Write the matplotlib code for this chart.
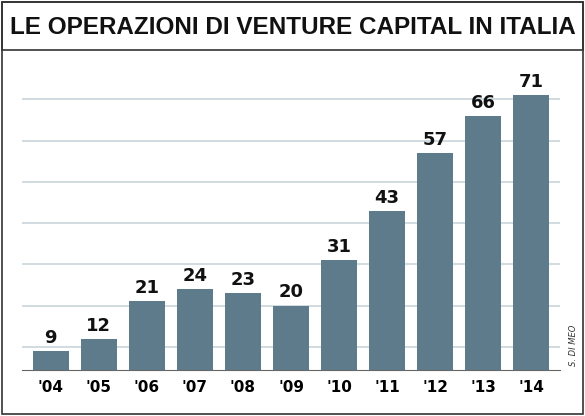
import matplotlib
matplotlib.use("Agg")
import matplotlib.pyplot as plt
from matplotlib.patches import Rectangle

years = ["'04","'05","'06","'07","'08","'09","'10","'11","'12","'13","'14"]
values = [9, 12, 21, 24, 23, 20, 31, 43, 57, 66, 71]
title = "LE OPERAZIONI DI VENTURE CAPITAL IN ITALIA"

W, H = 585, 416
fig = plt.figure(figsize=(W/100, H/100), dpi=100)
fig.patch.set_facecolor("white")
fig.patches.append(Rectangle((2/W, 2/H), 1-4/W, 1-4/H, transform=fig.transFigure,
                             fill=False, ec="#333333", lw=1.2))
fig.patches.append(Rectangle((2/W, (H-50)/H), 1-4/W, 48/H, transform=fig.transFigure,
                             fill=False, ec="#333333", lw=1.2))
fig.text(0.5, (H-27)/H, title, ha="center", va="center", fontsize=17.5,
         fontweight="bold", family="Liberation Sans", color="#111111")

ax = fig.add_axes([22/W, (H-370)/H, 538/W, 312/H])
x = range(len(values))
ax.bar(x, values, width=0.76, color="#5e7b8b", zorder=3)
ax.set_ylim(4.4, 80)
ax.set_xlim(-0.6, len(values)-0.4)
ax.set_yticks([10, 20, 30, 40, 50, 60, 70])
ax.yaxis.grid(True, color="#c8d4da", lw=1.2, zorder=0)
ax.tick_params(axis="y", left=False, labelleft=False)
ax.tick_params(axis="x", bottom=False)
ax.set_xticks(list(x))
ax.set_xticklabels(years, fontsize=11, fontweight="bold")
for s in ax.spines.values():
    s.set_visible(False)
ax.spines["bottom"].set_visible(True)
ax.spines["bottom"].set_color("#666666")
for i, v in enumerate(values):
    ax.text(i, v + 1.0, str(v), ha="center", va="bottom", fontsize=13, fontweight="bold", color="#111111")
fig.text(574/W, (H-345)/H, "S. DI MEO", rotation=90, fontsize=6, style="italic",
         ha="center", va="center", color="#333333")
fig.savefig("out.png", dpi=100)
